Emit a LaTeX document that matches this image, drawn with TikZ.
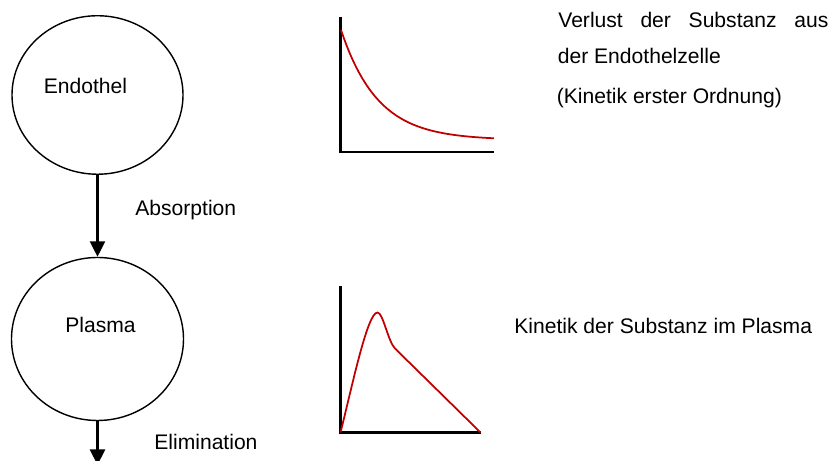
\documentclass[tikz,border=0pt]{standalone}
\usepackage{fontspec}
\setmainfont{Liberation Sans}
\usepackage{tikz}
\usetikzlibrary{arrows.meta,shapes.geometric}
\definecolor{kurvenrot}{RGB}{192,0,0}

\begin{document}
\begin{tikzpicture}[>={Triangle[length=0.31cm,width=0.3cm]},font=\fontsize{12pt}{14pt}\selectfont,
    komp/.style={draw,ellipse,line width=0.8pt,inner sep=0pt},
    txt/.style={inner sep=0pt,anchor=base west},
    achse/.style={line width=1.2pt},
    kurve/.style={draw=kurvenrot,line width=1pt}]
    \useasboundingbox (0,0) rectangle (16.58,9.22);

    % Kompartimente
    \node[komp,minimum width=3.42cm,minimum height=3.17cm] (endo) at (1.95,7.32) {};
    \node[komp,minimum width=3.44cm,minimum height=3.26cm] (plasma) at (1.95,2.44) {};
    \node[inner sep=0pt,anchor=base] (endolbl) at (1.71,7.35) {Endothel};
    \node[inner sep=0pt,anchor=base] (plasmalbl) at (2.01,2.57) {Plasma};
    \coordinate (elimend) at (1.95,-0.08);

    \draw[->,line width=1.25pt] (endo) -- (plasma);
    \node[txt] (absorp) at (2.70,4.90) {Absorption};
    \draw[->,line width=1.25pt] (plasma) -- (elimend);
    \node[txt] (elim) at (3.08,0.23) {Elimination};

    % Kinetik erster Ordnung
    \draw[achse] (6.81,8.88) -- (6.81,6.18) -- (9.88,6.18);
    \draw[kurve] plot[domain=6.82:9.88,samples=60] (\x,{6.42+2.2*exp(-1.36*(\x-6.82))});
    \node[txt] (verlust1) at (11.16,8.67) {\makebox[5.40cm][s]{Verlust der Substanz aus}};
    \node[txt] (verlust2) at (11.15,7.95) {der Endothelzelle};
    \node[txt] (verlust3) at (11.13,7.14) {(Kinetik erster Ordnung)};

    % Kinetik im Plasma
    \draw[achse] (6.81,3.49) -- (6.81,0.57) -- (9.61,0.57);
    \draw[kurve] (6.81,0.57) .. controls (7.06,1.57) and (7.35,2.97) .. (7.55,2.97)
        .. controls (7.66,2.97) and (7.76,2.39) .. (7.90,2.25) -- (9.61,0.57);
    \node[txt] (plasmakin) at (10.28,2.55) {Kinetik der Substanz im Plasma};
\end{tikzpicture}
\end{document}
